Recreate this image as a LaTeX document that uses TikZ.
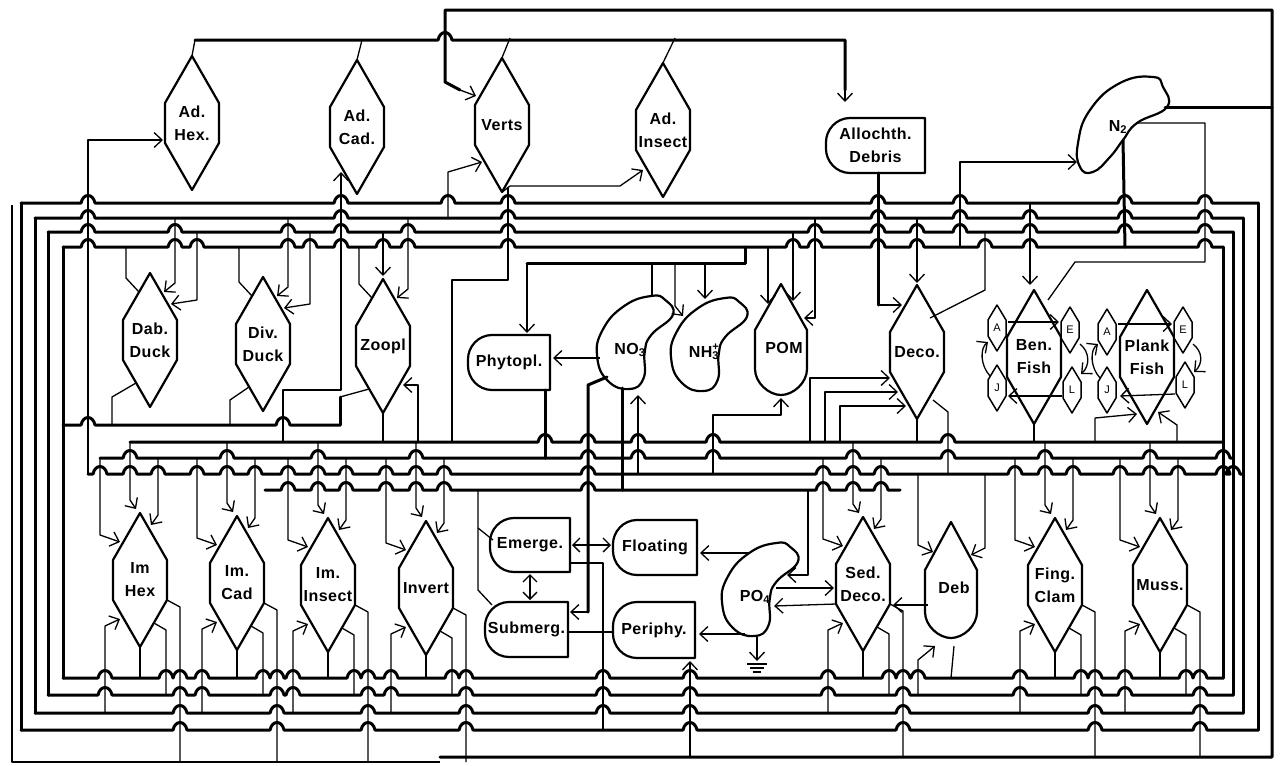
\documentclass[tikz,border=0pt]{standalone}
\usepackage{fontspec}
\newfontfamily\lf{Liberation Sans}[LetterSpace=3]
\usetikzlibrary{arrows.meta}
\tikzset{
  shp/.style={line width=2.2pt, line join=round, fill=white},
  bus/.style={line width=3pt, line cap=round, line join=round},
  wire/.style={line width=1.3pt, line join=round},
  arr/.style={wire, -{Straight Barb[length=8pt,width=15pt]}},
  darr/.style={wire, {Straight Barb[length=7pt,width=14pt]}-{Straight Barb[length=7pt,width=14pt]}},
  lbl/.style={font=\lf\bfseries\fontsize{16}{23}\selectfont, align=center, inner sep=0pt},
  slbl/.style={font=\lf\fontsize{11}{12}\selectfont, inner sep=0pt},
}
% elongated diamond (hexagon) node
\newcommand\hexd[4]{%
  \draw[shp] (#2,#3-67) -- (#2+27,#3-20) -- (#2+27,#3+20) -- (#2,#3+67) -- (#2-27,#3+20) -- (#2-27,#3-20) -- cycle;
  \node[lbl, minimum width=54pt, minimum height=134pt] (#1) at (#2,#3) {#4};}
% small hexagon
\newcommand\shex[4]{%
  \draw[shp, line width=1.5pt] (#2,#3-23) -- (#2+9,#3-8) -- (#2+9,#3+8) -- (#2,#3+23) -- (#2-9,#3+8) -- (#2-9,#3-8) -- cycle;
  \node[slbl] (#1) at (#2,#3) {#4};}
% box with rounded left side
\newcommand\lbox[6]{%
  \draw[shp] (#4,#3) -- (#2+24,#3) .. controls (#2+10,#3) and (#2,#3+12) .. (#2,#3+24) -- (#2,#5-24) .. controls (#2,#5-12) and (#2+10,#5) .. (#2+24,#5) -- (#4,#5) -- cycle;
  \node[lbl, minimum width={(#4-#2)*1pt}, minimum height={(#5-#3)*1pt}] (#1) at ({(#2+#4)/2},{(#3+#5)/2}) {#6};}
% pointed top, round bottom
\newcommand\pent[6]{%
  \draw[shp] (#2,#3) -- (#2+26,#4) -- (#2+26,#5-26) .. controls (#2+26,#5-12) and (#2+12,#5) .. (#2,#5) .. controls (#2-12,#5) and (#2-26,#5-12) .. (#2-26,#5-26) -- (#2-26,#4) -- cycle;
  \node[lbl, minimum width=52pt, minimum height={(#5-#3)*1pt}] (#1) at (#2+3,{(#3+#5)/2+8}) {#6};}
% kidney (bean) shape
\newcommand\kid[4]{%
  \begin{scope}[shift={(#2,#3)}, xscale=1.08]
    \draw[shp] plot[smooth cycle, tension=0.8] coordinates {(28,-43) (35,-28) (15,-8) (9,9) (8,35) (-5,46) (-25,38) (-35,14) (-30,-13) (-10,-37) (15,-47)};
  \end{scope}
  \node[lbl, minimum width=66pt, minimum height=90pt] (#1) at (#2-5,#3+7) {#4};}
% horizontal bus line with hop-over bumps
\newcommand\hb[4]{%
  \draw[bus] (#2,#1) \foreach \b in {#4}{ -- (\b-7,#1) .. controls (\b-5,#1-10) and (\b+5,#1-10) .. (\b+7,#1)} -- (#3,#1);}
% connectors of a lower compartment
\newcommand\lowconn[3]{%
  \draw[arr] (#1-10,442) -- (#1-10,#2-80) -- (#1-4,#2-71);
  \draw[arr] (#1+18,458) -- (#1+18,#2-65) -- (#1+11,#2-55);
  \draw[arr] (#1-40,458) -- (#1-40,#2-45) -- (#1-20,#2-38);
  \draw[wire] (#1,#2+67) -- (#1,678);
  \draw[wire] (#1+27,#2+20) -- (#1+40,#2+27) -- (#1+40,#3);
  \draw[wire] (#1+14,#2+43) -- (#1+26,#2+50) -- (#1+26,695);
  \draw[arr] (#1-35,713) -- (#1-35,#2+46) -- (#1-20,#2+39);}
% connectors of an upper compartment
\newcommand\upconn[2]{%
  \draw[wire] (#1-24,247) -- (#1-24,#2-62) -- (#1-11,#2-48);
  \draw[arr] (#1+25,218) -- (#1+25,#2-57) -- (#1+14,#2-48);
  \draw[arr] (#1+47,232) -- (#1+47,#2-40) -- (#1+21,#2-36);}

\begin{document}
\begin{tikzpicture}[x=1pt,y=-1pt]
\useasboundingbox (0,0) rectangle (1283,766);

% ---------------- compartments ----------------
\hexd{adhex}{192}{123}{Ad.\\Hex.}
\hexd{adcad}{357}{127}{Ad.\\Cad.}
\hexd{verts}{502}{125}{Verts}
\hexd{adins}{663}{130}{Ad.\\Insect}
\lbox{alloch}{826}{118}{925}{173}{Allochth.\\Debris}
\draw[shp] plot[smooth cycle, tension=0.8] coordinates {(1163,87) (1167,107) (1137,123) (1123,140) (1110,157) (1093,172) (1080,167) (1078,143) (1090,110) (1120,83) (1153,77)};
\node[lbl, minimum width=80pt, minimum height=90pt] (n2) at (1118,127) {N\textsubscript{2}};

\hexd{dab}{150}{340}{Dab.\\Duck}
\hexd{div}{263}{344}{Div.\\Duck}
\hexd{zoo}{383}{346}{Zoopl}
\lbox{phyto}{468}{335}{550}{390}{Phytopl.}
\kid{no3}{635}{343}{NO\textsubscript{3}}
\kid{nh3}{709}{345}{NH\rlap{\textsuperscript{+}}\textsubscript{3}}
\pent{pom}{781}{284}{330}{395}{POM}
\hexd{deco}{917}{352}{Deco.}
\hexd{benf}{1034}{357}{Ben.\\Fish}
\hexd{plkf}{1147}{357}{Plank\\Fish}
\shex{benA}{997}{328}{A}
\shex{benE}{1070}{330}{E}
\shex{benJ}{997}{388}{J}
\shex{benL}{1072}{390}{L}
\shex{plkA}{1107}{332}{A}
\shex{plkE}{1183}{330}{E}
\shex{plkJ}{1107}{390}{J}
\shex{plkL}{1185}{385}{L}

\hexd{imhex}{140}{580}{Im\\Hex}
\hexd{imcad}{237}{583}{Im.\\Cad}
\hexd{imins}{328}{585}{Im.\\Insect}
\hexd{inv}{426}{588}{Invert}
\lbox{emerge}{490}{518}{570}{572}{Emerge.}
\lbox{float}{613}{520}{697}{575}{Floating}
\lbox{submerg}{485}{602}{568}{657}{Submerg.}
\lbox{periphy}{613}{602}{695}{658}{Periphy.}
\kid{po4}{760}{590}{PO\textsubscript{4}}
\hexd{sed}{863}{584}{Sed.\\Deco.}
\pent{deb}{951}{522}{570}{638}{Deb}
\hexd{fing}{1055}{585}{Fing.\\Clam}
\hexd{muss}{1160}{585}{Muss.}

% ---------------- top lines ----------------
\draw[wire] (adhex.north) -- (195,40);
\draw[wire] (adcad.north) -- (362,40);
\draw[wire] (verts.north) -- (510,38);
\draw[wire] (adins.north) -- (675,38);
\draw[bus] (195,40) -- (438,40) .. controls (440,30) and (450,30) .. (452,40) -- (845,40) -- (845,90);
\draw[arr] (845,88) -- (845,102);
\draw[bus] (440,757) -- (1272,757) -- (1272,10) -- (445,10) -- (445,82) -- (460,90);
\draw[arr] (460,90) -- (476,96);
\draw[bus] (1165,107) -- (1272,107);
\draw[wire] (12,205) -- (12,762) -- (440,762);

% ---------------- upper bus ----------------
\hb{203}{21}{1258}{88,341,448,508,878,960,1125,1205}
\hb{218}{35}{1243}{88,341,508,878,960,1030,1125,1205}
\hb{232}{48}{1233}{88,175,288,341,408,508,815,878,917,960,1030,1125,1205}
\hb{247}{63}{1223}{88,175,197,288,310,341,383,408,508,793,815,878,917,985,1030,1205}
\draw[bus] (21,203) -- (21,730);
\draw[bus] (35,218) -- (35,713);
\draw[bus] (48,232) -- (48,695);
\draw[bus] (63,247) -- (63,678);
\draw[bus] (1258,203) -- (1258,730);
\draw[bus] (1243,218) -- (1243,713);
\draw[bus] (1233,232) -- (1233,695);
\draw[bus] (1223,247) -- (1223,678);

% ---------------- middle bus ----------------
\hb{425}{63}{340}{88,283}
\draw[bus] (340,425) -- (340,397);
\draw[wire] (340,397) -- (369,389);
\hb{442}{130}{1223}{545,588,638,713,948}
\hb{458}{100}{1233}{130,227,318,416,588,638,713,853,948,1045,1150,1223}
\hb{474}{88}{1243}{100,130,158,197,227,255,288,318,346,386,416,444,588,823,853,881,1015,1045,1073,1120,1150,1178,1223,1233}
\hb{490}{265}{900}{288,318,346,386,416,444,588,823,853,881}
\draw[bus] (527,263) -- (745,263) -- (745,247);

% ---------------- lower bus ----------------
\hb{678}{63}{1223}{105,166,180,202,263,277,293,354,368,391,452,466,603,690,828,889,903,918,1020,1081,1095,1125,1186,1200}
\hb{695}{48}{1233}{105,180,202,277,293,368,391,466,603,690,828,903,1020,1095,1125,1200}
\hb{713}{35}{1243}{180,277,368,466,603,690,903,1095,1200}
\hb{730}{21}{1258}{180,277,368,466,690,903,1095,1200}

% ---------------- upper compartments connections ----------------
\draw[arr] (88,474) -- (88,140) -- (163,140);
\draw[arr] (283,442) -- (283,390) -- (341,390) -- (341,172);
\draw[arr] (448,218) -- (448,172) -- (482,162);
\draw[wire] (verts.south) -- (510,186) -- (620,186);
\draw[arr] (620,186) -- (643,170);
\draw[wire] (508,187) -- (508,280) -- (452,280) -- (452,442);
\upconn{150}{340}
\upconn{263}{344}
\draw[wire] (136,383) -- (112,397) -- (112,425);
\draw[wire] (249,387) -- (230,400) -- (230,425);
\draw[wire] (359,247) -- (359,284) -- (372,298);
\draw[arr] (408,218) -- (408,289) -- (397,298);
\draw[arr] (383,232) -- (383,276);
\draw[wire] (zoo.south) -- (383,442);
\draw[arr] (418,442) -- (418,385) -- (403,385);

% phytoplankton and nutrients
\draw[arr] (527,263) -- (527,333);
\draw[arr] (600,358) -- (553,358);
\draw[bus] (545,390) -- (545,458);
\draw[wire] (652,263) -- (652,296);
\draw[arr] (675,263) -- (675,306) -- (683,316);
\draw[arr] (705,263) -- (705,299);
\draw[bus] (622,388) -- (622,490);
\draw[arr] (638,474) -- (638,395);
\draw[bus] (607,377) -- (588,385) -- (588,612);
\draw[arr] (588,612) -- (570,612);
\draw[arr] (768,247) -- (768,304);
\draw[arr] (793,232) -- (793,301);
\draw[arr] (815,218) -- (815,318) -- (804,318);
\draw[arr] (713,474) -- (713,415) -- (781,415) -- (781,398);

% allochthonous debris, N2, decomposers
\draw[bus] (878,173) -- (878,305);
\draw[arr] (878,305) -- (902,305);
\draw[arr] (917,218) -- (917,283);
\draw[wire] (930,318) -- (985,290) -- (985,232);
\draw[arr] (810,442) -- (810,378) -- (890,378);
\draw[arr] (825,442) -- (825,392) -- (898,392);
\draw[arr] (840,442) -- (840,406) -- (906,406);
\draw[wire] (deco.south) -- (917,442);
\draw[wire] (933,400) -- (948,412) -- (948,474);
\draw[arr] (960,247) -- (960,162) -- (1077,162);
\draw[bus] (1123,140) -- (1125,247);
\draw[wire] (1137,123) -- (1205,123) -- (1205,262) -- (1075,262) -- (1048,300);

% fish
\draw[arr] (1030,203) -- (1030,285);
\draw[wire] (benf.south) -- (1034,442);
\draw[arr] (1008,322) -- (1059,322);
\draw[arr] (1062,396) -- (1008,396);
\draw[arr] (990,376) .. controls (980,365) and (980,348) .. (988,342);
\draw[arr] (1080,344) .. controls (1090,352) and (1090,366) .. (1081,374);
\draw[arr] (1118,324) -- (1172,324);
\draw[arr] (1175,394) -- (1120,396);
\draw[arr] (1100,378) .. controls (1090,367) and (1090,350) .. (1098,344);
\draw[arr] (1193,344) .. controls (1203,352) and (1203,364) .. (1194,372);
\draw[arr] (1095,442) -- (1095,418) -- (1137,414);
\draw[arr] (1177,442) -- (1177,425) -- (1158,412);

% ---------------- lower compartments ----------------
\lowconn{140}{580}{762}
\lowconn{237}{583}{762}
\lowconn{328}{585}{762}
\lowconn{426}{588}{762}
\lowconn{863}{584}{757}
\lowconn{1055}{585}{757}
\lowconn{1160}{585}{757}

% macrophytes, periphyton, phosphate
\draw[darr] (572,545) -- (611,545);
\draw[darr] (530,574) -- (530,600);
\draw[wire] (568,632) -- (613,632);
\draw[wire] (570,563) -- (603,563) -- (603,730);
\draw[wire] (478,490) -- (478,590) -- (492,605);
\draw[wire] (478,528) -- (493,540);
\draw[arr] (690,757) -- (690,661);
\draw[arr] (750,553) -- (700,553);
\draw[arr] (745,634) -- (699,634);
\draw[arr] (776,588) -- (834,588);
\draw[arr] (836,604) -- (774,606);
\draw[arr] (808,490) -- (808,575) -- (787,575);
\draw[arr] (757,637) -- (757,661);
\draw[wire] (747,664) -- (767,664);
\draw[wire] (750,668) -- (764,668);
\draw[wire] (753,672) -- (761,672);

% detritus
\draw[arr] (928,605) -- (893,605);
\draw[arr] (918,474) -- (918,545) -- (933,552);
\draw[arr] (985,474) -- (985,548) -- (971,555);
\draw[arr] (918,695) -- (918,660) -- (935,646);
\draw[wire] (deb.south) -- (951,678);
\end{tikzpicture}
\end{document}
